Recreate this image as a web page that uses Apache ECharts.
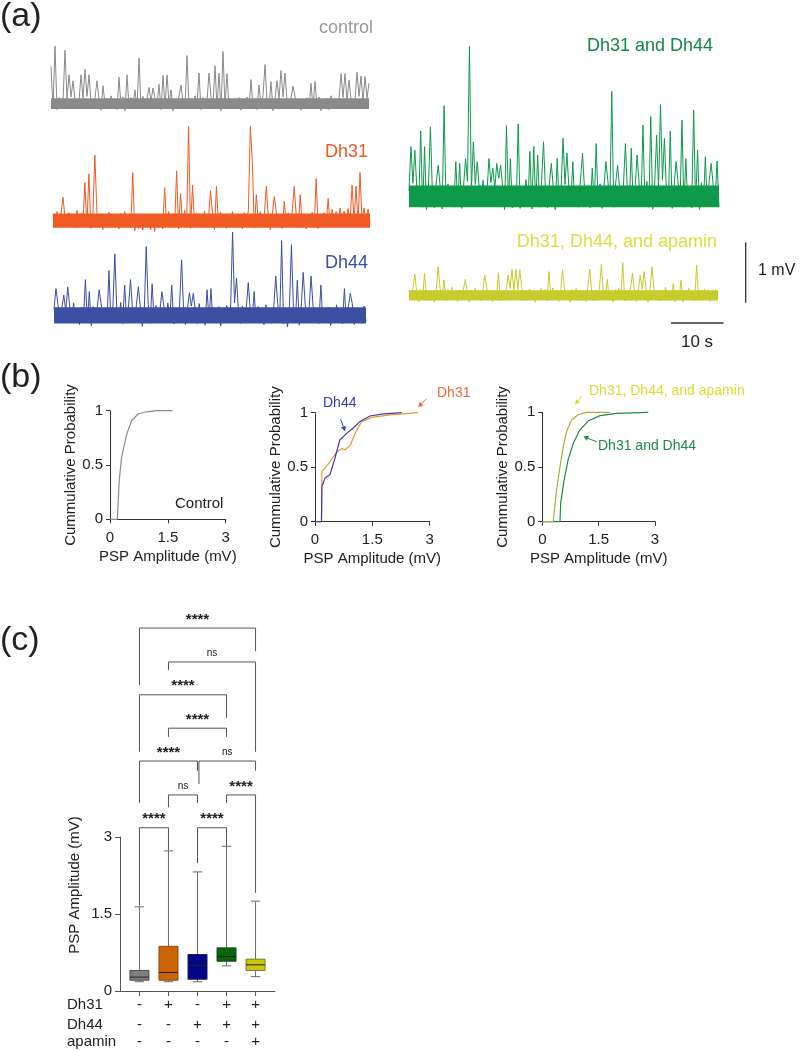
<!DOCTYPE html>
<html><head><meta charset="utf-8">
<script src="https://cdn.jsdelivr.net/npm/echarts@6/dist/echarts.min.js"></script>
<style>html,body{margin:0;padding:0;background:#fff}#chart{width:800px;height:1050px}</style>
</head><body><div id="chart"></div>
<script>
// ================= DATA =================
// (a) voltage traces: baseline noise samples (mV) and PSP spikes [sampleIndex, amplitude mV]
const controlNoise = [
.06,-.08,.04,-.11,.09,-.05,.02,-.12,.07,-.03,
.10,-.07,.05,-.09,.03,-.13,.08,-.04,.11,-.06,
.02,-.10,.09,-.08,.05,-.12,.04,-.02,.08,-.09,
.12,-.05,.03,-.11,.07,-.06,.10,-.13,.04,-.07,
.09,-.03,.06,-.10,.02,-.08,.11,-.05,.07,-.12,
.03,-.09,.08,-.04,.10,-.11,.05,-.07,.09,-.02,
.06,-.13,.04,-.08,.11,-.06,.02,-.10,.08,-.05,
.07,-.09,.12,-.03,.05,-.11,.09,-.07,.03,-.12,
.10,-.04,.06,-.09,.08,-.13,.04,-.06,.11,-.08,
.02,-.10,.07,-.05,.09,-.12,.05,-.03,.10,-.09,
.06,-.07,.03,-.11,.08,-.04,.12,-.10,.04,-.06,
.09,-.13,.05,-.08,.07,-.02,.10,-.11,.03,-.07,
.08,-.05,.11,-.09,.04,-.12,.06,-.03,.09,-.10,
.02,-.08,.07,-.06,.10,-.13,.05,-.04,.08,-.11,
.12,-.07,.03,-.09,.06,-.05,.09,-.12,.04,-.08,
.07,-.10,.05,-.03,.11,-.09,.02,-.06,.08,-.11];
const controlSpikes = [[0,.61],[2,.95],[7,.88],[9,.47],[11,.37],[15,.47],[17,.56],[19,.47],[23,.37],[26,.29],[34,.43],[38,.47],[42,.22],[44,.75],[49,.26],[51,.25],[54,.31],[56,.46],[58,.47],[60,.22],[65,.30],[68,.79],[74,.50],[79,.50],[82,.62],[84,.50],[86,.86],[88,.49],[100,.39],[104,.30],[107,.64],[110,.36],[113,.37],[115,.54],[117,.50],[121,.28],[130,.33],[132,.36],[145,.49],[147,.49],[149,.38],[153,.51],[155,.45],[157,.44],[159,.33]];

const dh31Noise = [
.08,-.12,.14,-.06,.10,-.15,.05,-.09,.12,-.04,
.07,-.13,.16,-.08,.11,-.05,.13,-.10,.06,-.14,
.09,-.07,.15,-.11,.04,-.16,.10,-.06,.13,-.09,
.05,-.12,.08,-.15,.11,-.07,.14,-.10,.06,-.13,
.02,-.18,.07,-.14,.03,-.17,.06,-.12,.09,-.16,
.04,-.19,.08,-.13,.05,-.15,.11,-.09,.14,-.06,
.10,-.12,.07,-.15,.13,-.08,.16,-.11,.05,-.14,
.09,-.06,.12,-.10,.07,-.13,.15,-.08,.04,-.12,
.11,-.16,.08,-.09,.13,-.05,.10,-.14,.06,-.11,
.14,-.07,.09,-.12,.05,-.15,.12,-.08,.16,-.10,
.07,-.13,.11,-.06,.14,-.09,.08,-.12,.05,-.16,
.10,-.08,.13,-.11,.06,-.14,.09,-.05,.12,-.10,
.15,-.07,.08,-.13,.11,-.09,.05,-.15,.10,-.06,
.13,-.11,.07,-.14,.09,-.04,.12,-.08,.16,-.10,
.18,-.03,.14,-.07,.20,-.02,.15,-.06,.19,-.04,
.17,-.01,.21,-.05,.16,-.02,.20,-.03,.18,-.06];
const dh31Spikes = [[5,.38],[16,.62],[18,.77],[21,1.08],[40,.79],[56,.54],[62,.82],[64,.44],[68,1.56],[70,.58],[79,.49],[82,.56],[99,1.56],[100,.94],[102,.42],[107,.56],[111,.39],[116,.31],[121,.56],[124,.42],[132,.69],[138,.36],[150,.58],[152,.56],[154,.79]];

const dh44Noise = [
.10,-.14,.18,-.08,.12,-.17,.06,-.11,.15,-.09,
.20,-.13,.09,-.16,.13,-.07,.17,-.12,.08,-.18,
.14,-.06,.11,-.15,.19,-.10,.07,-.13,.16,-.09,
.12,-.17,.08,-.11,.21,-.14,.10,-.07,.15,-.16,
.09,-.12,.17,-.08,.13,-.19,.06,-.10,.18,-.14,
.11,-.07,.16,-.13,.09,-.17,.14,-.11,.20,-.08,
.07,-.15,.12,-.10,.18,-.06,.13,-.16,.10,-.12,
.15,-.09,.08,-.14,.19,-.11,.06,-.17,.13,-.08,
.17,-.13,.10,-.07,.14,-.18,.09,-.12,.16,-.10,
.11,-.15,.20,-.09,.07,-.14,.15,-.11,.12,-.17,
.08,-.10,.18,-.13,.14,-.07,.10,-.16,.17,-.12,
.06,-.14,.13,-.09,.19,-.11,.08,-.15,.12,-.20,
.16,-.08,.11,-.13,.07,-.17,.14,-.10,.18,-.12,
.09,-.16,.15,-.07,.12,-.14,.20,-.11,.10,-.09,
.13,-.18,.08,-.12,.17,-.10,.11,-.15,.06,-.13,
.14,-.09,.19,-.16,.10,-.12,.07,-.14,.15,-.11];
const dh44Spikes = [[1,.44],[5,.33],[7,.47],[16,.59],[18,.39],[23,.42],[28,.74],[31,1.02],[36,.50],[39,.59],[43,.47],[47,1.14],[50,.52],[55,.39],[60,.50],[65,.92],[69,.37],[71,.36],[78,.42],[80,.44],[91,1.38],[93,.61],[99,.54],[102,.39],[113,.65],[116,1.24],[121,1.17],[124,.58],[127,.71],[131,.65],[136,.50],[148,.44],[151,.36]];

const dh31dh44Noise = [
.15,-.10,.28,-.14,.20,-.08,.32,-.12,.18,-.16,
.25,-.06,.12,-.13,.30,-.09,.22,-.15,.17,-.11,
.27,-.07,.14,-.12,.35,-.10,.19,-.14,.24,-.08,
.31,-.13,.16,-.09,.26,-.15,.21,-.06,.33,-.11,
.13,-.14,.29,-.08,.19,-.12,.36,-.10,.23,-.16,
.18,-.07,.30,-.13,.15,-.09,.27,-.14,.20,-.11,
.34,-.08,.17,-.15,.25,-.10,.22,-.12,.31,-.07,
.14,-.13,.28,-.09,.20,-.16,.33,-.11,.18,-.08,
.26,-.14,.21,-.10,.29,-.07,.16,-.12,.35,-.15,
.19,-.09,.24,-.13,.30,-.10,.17,-.08,.27,-.14,
.22,-.11,.32,-.07,.15,-.12,.28,-.16,.20,-.09,
.25,-.13,.18,-.10,.34,-.08,.23,-.14,.29,-.11,
.16,-.07,.31,-.12,.21,-.15,.26,-.09,.19,-.13,
.33,-.10,.17,-.08,.28,-.14,.24,-.11,.30,-.07,
.20,-.12,.36,-.09,.15,-.13,.27,-.10,.22,-.16,
.29,-.08,.18,-.11,.32,-.14,.25,-.07,.21,-.12];
const dh31dh44Spikes = [[1,.89],[3,.83],[6,1.15],[8,.89],[11,1.22],[15,.58],[18,1.57],[24,.64],[26,.61],[29,.69],[31,2.56],[33,.97],[35,.64],[41,.69],[43,.53],[45,.61],[47,.58],[50,1.24],[52,.69],[56,1.27],[62,.81],[64,.89],[66,.75],[69,.97],[73,.61],[76,.69],[79,1.03],[81,.78],[84,.64],[89,.78],[94,.53],[96,.94],[101,.64],[104,1.81],[107,.58],[111,.94],[114,.86],[117,.75],[120,1.25],[124,1.39],[127,1.08],[129,1.59],[131,1.03],[134,1.15],[137,.64],[140,1.33],[142,.69],[146,1.50],[148,.83],[152,.72],[155,.61],[158,.65]];

const apaminNoise = [
.07,-.05,.10,-.08,.04,-.11,.09,-.06,.12,-.04,
.06,-.09,.03,-.12,.08,-.07,.11,-.03,.05,-.10,
.09,-.06,.13,-.08,.04,-.11,.07,-.05,.10,-.09,
.03,-.12,.08,-.04,.11,-.07,.06,-.10,.09,-.05,
.12,-.08,.05,-.11,.07,-.03,.10,-.09,.04,-.06,
.08,-.12,.11,-.05,.06,-.10,.09,-.07,.13,-.04,
.05,-.09,.10,-.06,.07,-.12,.04,-.08,.11,-.05,
.09,-.10,.06,-.03,.12,-.08,.08,-.11,.05,-.07,
.10,-.06,.04,-.12,.09,-.05,.11,-.09,.07,-.04,
.06,-.11,.13,-.07,.05,-.10,.08,-.06,.12,-.09,
.03,-.08,.10,-.05,.07,-.12,.09,-.04,.11,-.07,
.06,-.10,.08,-.03,.12,-.09,.05,-.11,.07,-.06,
.10,-.04,.09,-.12,.06,-.08,.11,-.05,.04,-.10,
.08,-.07,.13,-.09,.05,-.06,.10,-.11,.07,-.03,
.09,-.12,.06,-.05,.11,-.08,.04,-.10,.12,-.06,
.07,-.09,.10,-.04,.08,-.11,.05,-.07,.09,-.05];
const apaminSpikes = [[3,.35],[8,.36],[15,.47],[18,.25],[29,.26],[39,.33],[46,.37],[51,.33],[53,.43],[55,.43],[57,.42],[72,.39],[79,.42],[93,.43],[99,.51],[102,.26],[110,.54],[115,.36],[119,.33],[121,.39],[125,.47],[136,.19],[140,.25],[148,.50]];

// dense core of the baseline noise band for each trace [low mV, high mV]
const noiseCoreBands = [[-0.10,0.08],[-0.13,0.11],[-0.14,0.13],[-0.12,0.24],[-0.09,0.08]];
const traceLabels = ['control','Dh31','Dh44','Dh31 and Dh44','Dh31, Dh44, and apamin'];
const scaleBarMV = [0, 1];
const scaleBarS = [0, 10];

// (b) cumulative probability curves [PSP amplitude mV, probability]
const cdfControl = [[0,0],[.19,0],[.24,.36],[.30,.57],[.43,.78],[.56,.91],[.73,.97],[.95,.99],[1.21,1],[1.62,1]];
const cdfDh44 = [[0,0],[.17,0],[.18,.32],[.26,.40],[.39,.43],[.52,.58],[.65,.75],[.83,.81],[1.0,.86],[1.18,.92],[1.44,.97],[1.79,.99],[2.27,1]];
const cdfDh31 = [[0,0],[.17,0],[.18,.46],[.26,.49],[.39,.55],[.57,.64],[.70,.67],[.79,.66],[.92,.70],[1.05,.81],[1.22,.92],[1.53,.96],[1.96,.98],[2.31,.99],[2.70,1]];
const cdfApamin = [[0,0],[.29,0],[.38,.29],[.47,.50],[.56,.69],[.65,.83],[.78,.93],[.96,.98],[1.18,1],[1.80,1]];
const cdfDh31Dh44 = [[0,0],[.47,0],[.49,.17],[.58,.38],[.69,.57],[.83,.72],[1.0,.84],[1.22,.92],[1.54,.97],[1.98,.99],[2.82,1]];
const cdfTicksX = [0, 1.5, 3];
const cdfTicksY = [0, 0.5, 1];
// label arrows [x from, y from, x to, y to] in data units of each CDF plot
const arrowsPlot2 = [[2.92,1.13,2.70,1.05],[0.67,0.94,0.79,0.83]];
const arrowsPlot3 = [[1.05,1.15,0.87,1.07],[1.45,0.73,1.09,0.78]];

// (c) box plot of PSP amplitude (mV)
const groups = ['control','Dh31','Dh44','Dh31+Dh44','Dh31+Dh44+apamin'];
const boxMin    = [0.18, 0.18, 0.18, 0.49, 0.28];
const boxQ1     = [0.21, 0.21, 0.23, 0.58, 0.40];
const boxMedian = [0.27, 0.36, 0.50, 0.67, 0.51];
const boxQ3     = [0.40, 0.87, 0.71, 0.84, 0.62];
const boxMax    = [1.64, 2.73, 2.32, 2.82, 1.75];
const dh31Row   = ['-','+','-','+','+'];
const dh44Row   = ['-','-','+','+','+'];
const apaminRow = ['-','-','-','-','+'];
const rowNames  = ['Dh31','Dh44','apamin'];
// significance brackets: [group A, group B, bracket top, left leg end, right leg end]
const bracketPairs = [[0,4,7.07,5.96,6.62],[1,4,6.41,6.25,4.66],[0,3,5.77,4.66,5.32],[1,3,5.12,4.95,4.95],[0,2,4.48,3.66,4.29],[2.05,4,4.48,4.03,4.29],[1,2,3.82,3.58,3.66],[3,4,3.82,3.66,1.91],[0,1,3.18,1.66,2.75],[2,3,3.18,2.49,2.82]];
const bracketLabels = ['****','ns','****','****','****','ns','ns','****','****','****'];

// ================= CHART =================
const FONT = '"Liberation Sans", Arial, Helvetica, sans-serif';
const PX_PER_MV = 60;
const traces = [
  {noise: controlNoise, spikes: controlSpikes, color:'#8a8a8a', left:51,  width:318, zeroY:103, min:-0.3, max:1.1},
  {noise: dh31Noise,    spikes: dh31Spikes,    color:'#f05a24', left:53,  width:317, zeroY:220, min:-0.4, max:1.7},
  {noise: dh44Noise,    spikes: dh44Spikes,    color:'#3b4fa3', left:54,  width:312, zeroY:315, min:-0.4, max:1.5},
  {noise: dh31dh44Noise,spikes: dh31dh44Spikes,color:'#0d9a4b', left:409, width:310, zeroY:200, min:-0.4, max:2.7},
  {noise: apaminNoise,  spikes: apaminSpikes,  color:'#c8cb2c', left:409, width:309, zeroY:295, min:-0.3, max:0.7}
];
function buildTrace(noise, spikes){
  const v = noise.slice();
  spikes.forEach(s => { v[s[0]] = s[1]; });
  return v.map((y,i)=>[i,y]);
}
const grids = [], xAxes = [], yAxes = [], series = [];
traces.forEach((t,k)=>{
  grids.push({left:t.left, width:t.width, top:t.zeroY - t.max*PX_PER_MV, height:(t.max-t.min)*PX_PER_MV});
  xAxes.push({type:'value', gridIndex:k, min:0, max:t.noise.length-1, show:false});
  yAxes.push({type:'value', gridIndex:k, min:t.min, max:t.max, show:false});
  const band = noiseCoreBands[k];
  series.push({type:'line', xAxisIndex:k, yAxisIndex:k, data:buildTrace(t.noise,t.spikes), symbol:'none',
    lineStyle:{color:t.color, width:1}, silent:true, animation:false,
    markArea:{silent:true, itemStyle:{color:t.color, opacity:1},
      data:[[{coord:[0,band[0]]},{coord:[t.noise.length-1,band[1]]}]]}});
});
// scale bars (grids 5, 6)
grids.push({left:671, top:313, width:52.5, height:10});
xAxes.push({type:'value', gridIndex:5, min:0, max:10, show:false});
yAxes.push({type:'value', gridIndex:5, min:0, max:1, show:false});
series.push({type:'line', xAxisIndex:5, yAxisIndex:5, data:[[scaleBarS[0],0],[scaleBarS[1],0]], symbol:'none', lineStyle:{color:'#333',width:1.3}, clip:false, animation:false});
grids.push({left:745.7, top:242.3, width:10, height:60.4});
xAxes.push({type:'value', gridIndex:6, min:0, max:1, show:false});
yAxes.push({type:'value', gridIndex:6, min:0, max:1, show:false});
series.push({type:'line', xAxisIndex:6, yAxisIndex:6, data:[[0,scaleBarMV[0]],[0,scaleBarMV[1]]], symbol:'none', lineStyle:{color:'#333',width:1.3}, clip:false, animation:false});

// (b) CDF plots (grids 7,8,9)
const cdfGrids = [
  {left:110, top:410.7, width:115.7, height:108.6},
  {left:315, top:412.7, width:114.6, height:109},
  {left:542.3, top:412.3, width:112.7, height:109.4}
];
cdfGrids.forEach((g,j)=>{
  const gi = 7+j;
  grids.push(g);
  xAxes.push({type:'value', gridIndex:gi, min:cdfTicksX[0], max:cdfTicksX[2], interval:cdfTicksX[1],
    axisLine:{show:true, onZero:false, lineStyle:{color:'#333', width:1}},
    axisTick:{show:true, length:4, lineStyle:{color:'#333'}},
    axisLabel:{fontSize:15, color:'#222', fontFamily:FONT, margin:11},
    splitLine:{show:false},
    name:'PSP Amplitude (mV)', nameLocation:'middle', nameGap:30,
    nameTextStyle:{fontSize:15, color:'#222', fontFamily:FONT}});
  yAxes.push({type:'value', gridIndex:gi, min:cdfTicksY[0], max:cdfTicksY[2], interval:cdfTicksY[1],
    axisLine:{show:true, onZero:false, lineStyle:{color:'#333', width:1}},
    axisTick:{show:true, length:4, lineStyle:{color:'#333'}},
    axisLabel:{fontSize:15, color:'#222', fontFamily:FONT, margin:7},
    splitLine:{show:false},
    name:'Cummulative Probability', nameLocation:'middle', nameGap:30,
    nameTextStyle:{fontSize:15, color:'#222', fontFamily:FONT}});
});
function cdfLine(gi, data, color){
  return {type:'line', xAxisIndex:gi, yAxisIndex:gi, data:data, symbol:'none', clip:false,
    lineStyle:{color:color, width:1.2}, silent:true, animation:false};
}
series.push(cdfLine(7, cdfControl, '#8c8c8c'));
series.push(cdfLine(8, cdfDh31, '#e8962e'));
series.push(cdfLine(8, cdfDh44, '#3d3db4'));
series.push(cdfLine(9, cdfDh31Dh44, '#1f8a4c'));
series.push(cdfLine(9, cdfApamin, '#aeac3a'));
function arrowSeries(gi, arrows, colors){
  return {type:'custom', xAxisIndex:gi, yAxisIndex:gi, clip:false, silent:true, animation:false,
    encode:{x:[0,2], y:[1,3]}, data:arrows,
    renderItem:function(params, api){
      const a = api.coord([api.value(0), api.value(1)]), b = api.coord([api.value(2), api.value(3)]);
      const col = colors[params.dataIndex];
      const dx = b[0]-a[0], dy = b[1]-a[1], len = Math.sqrt(dx*dx+dy*dy), ux = dx/len, uy = dy/len;
      const hl = 5, hw = 2.6;
      const base = [b[0]-ux*hl, b[1]-uy*hl];
      return {type:'group', children:[
        {type:'line', shape:{x1:a[0], y1:a[1], x2:base[0], y2:base[1]}, style:{stroke:col, lineWidth:1}},
        {type:'polygon', shape:{points:[b, [base[0]-uy*hw, base[1]+ux*hw], [base[0]+uy*hw, base[1]-ux*hw]]}, style:{fill:col}}
      ]};
    }};
}
series.push(arrowSeries(8, arrowsPlot2, ['#f26a3a','#3c3cb0']));
series.push(arrowSeries(9, arrowsPlot3, ['#dcdc30','#1f8a4c']));

// (c) box plot (grid 10) and brackets (grid 11)
const BOX_PX_PER_MV = 154/3;
const boxGrid = {left:120, top:837, width:155, height:154};
grids.push(boxGrid);
xAxes.push({type:'value', gridIndex:10, min:-0.67, max:4.67, axisLine:{show:true, onZero:false, lineStyle:{color:'#555'}},
  axisTick:{show:false}, axisLabel:{show:false}, splitLine:{show:false}});
yAxes.push({type:'value', gridIndex:10, min:0, max:3, interval:1.5,
  axisLine:{show:true, onZero:false, lineStyle:{color:'#555'}},
  axisTick:{show:true, length:5, lineStyle:{color:'#555'}},
  axisLabel:{fontSize:15, color:'#222', fontFamily:FONT, margin:8}, splitLine:{show:false}});
const brTop = boxGrid.top + boxGrid.height - 8*BOX_PX_PER_MV;
grids.push({left:120, top:brTop, width:155, height:8*BOX_PX_PER_MV});
xAxes.push({type:'value', gridIndex:11, min:-0.67, max:4.67, show:false});
yAxes.push({type:'value', gridIndex:11, min:0, max:8, show:false});

const boxStyles = [
  {fill:'#808080', stroke:'#4d4d4d'},
  {fill:'#cc6406', stroke:'#8a4a12'},
  {fill:'#040489', stroke:'#1b1b55'},
  {fill:'#0a650a', stroke:'#174a17'},
  {fill:'#c9c708', stroke:'#7d7b1c'}
];
const signRows = [dh31Row, dh44Row, apaminRow];
const signOffsets = [14, 34, 50.5];
series.push({type:'custom', xAxisIndex:10, yAxisIndex:10, clip:false, silent:true, animation:false,
  encode:{x:0, y:[1,2,3,4,5]},
  data: groups.map((g,i)=>[i, boxMin[i], boxQ1[i], boxMedian[i], boxQ3[i], boxMax[i]]),
  renderItem:function(params, api){
    const i = api.value(0);
    const pMin = api.coord([i, api.value(1)]), pQ1 = api.coord([i, api.value(2)]),
          pMed = api.coord([i, api.value(3)]), pQ3 = api.coord([i, api.value(4)]),
          pMax = api.coord([i, api.value(5)]), p0 = api.coord([i, 0]);
    const x = pMin[0], half = 9.5, cap = 4.7;
    const st = boxStyles[params.dataIndex];
    const wl = {stroke:'#6a6a6a', lineWidth:1};
    const kids = [
      {type:'line', shape:{x1:x, y1:pMax[1], x2:x, y2:pQ3[1]}, style:wl},
      {type:'line', shape:{x1:x, y1:pQ1[1], x2:x, y2:pMin[1]}, style:wl},
      {type:'line', shape:{x1:x-cap, y1:pMax[1], x2:x+cap, y2:pMax[1]}, style:wl},
      {type:'line', shape:{x1:x-cap, y1:pMin[1], x2:x+cap, y2:pMin[1]}, style:wl},
      {type:'rect', shape:{x:x-half, y:pQ3[1], width:2*half, height:pQ1[1]-pQ3[1]}, style:{fill:st.fill, stroke:st.stroke, lineWidth:1}},
      {type:'line', shape:{x1:x-half, y1:pMed[1], x2:x+half, y2:pMed[1]}, style:{stroke:'#222', lineWidth:1}},
      {type:'line', shape:{x1:x, y1:p0[1], x2:x, y2:p0[1]+5}, style:{stroke:'#555', lineWidth:1}}
    ];
    signRows.forEach((row,r)=>{
      kids.push({type:'text', x:x, y:p0[1]+signOffsets[r], style:{text:row[params.dataIndex], fill:'#222',
        fontSize:15, fontFamily:FONT, align:'center', verticalAlign:'middle', textAlign:'center', textVerticalAlign:'middle'}});
    });
    return {type:'group', children:kids};
  }
});
series.push({type:'custom', xAxisIndex:11, yAxisIndex:11, clip:false, silent:true, animation:false,
  encode:{x:[0,1], y:[2,3,4]},
  data: bracketPairs,
  renderItem:function(params, api){
    const a = api.value(0), b = api.value(1);
    const p1 = api.coord([a, api.value(3)]), p2 = api.coord([a, api.value(2)]),
          p3 = api.coord([b, api.value(2)]), p4 = api.coord([b, api.value(4)]);
    const lab = bracketLabels[params.dataIndex];
    const isNs = lab === 'ns';
    return {type:'group', children:[
      {type:'polyline', shape:{points:[p1,p2,p3,p4]}, style:{stroke:'#555', lineWidth:1, fill:null}},
      {type:'text', x:(p2[0]+p3[0])/2, y:p2[1] - (isNs ? 4 : 1), style:{text:lab, fill:'#222',
        fontSize: isNs ? 10 : 15, fontWeight: isNs ? 'normal' : 'bold', fontFamily:FONT,
        align:'center', verticalAlign:'bottom', textAlign:'center', textVerticalAlign:'bottom'}}
    ]};
  }
});

// ---------- text annotations ----------
function txt(text, x, y, size, color, align, rot){
  return {type:'text', x:x, y:y, rotation:rot||0, silent:true,
    style:{text:text, fill:color, fontSize:size, fontFamily:FONT, align:align||'left', verticalAlign:'middle',
      textAlign:align||'left', textVerticalAlign:'middle'}};
}
const graphic = [
  txt('(a)', 0, 17, 34, '#222'),
  txt('(b)', 0, 378, 34, '#222'),
  txt('(c)', 0, 641, 34, '#222'),
  txt(traceLabels[0], 373, 28, 18, '#9a9a9a', 'right'),
  txt(traceLabels[1], 368, 152, 18, '#f15a29', 'right'),
  txt(traceLabels[2], 368, 263, 18, '#3a4fa3', 'right'),
  txt(traceLabels[3], 713, 46, 18, '#13874a', 'right'),
  txt(traceLabels[4], 717, 242, 18, '#dcdf3f', 'right'),
  txt('1 mV', 758, 271, 16, '#222'),
  txt('10 s', 697, 342, 17, '#222', 'center'),
  txt('Control', 175, 504, 15, '#222'),
  txt('Dh44', 323, 403, 14, '#3c3cb0'),
  txt('Dh31', 437, 393, 14, '#f26a3a'),
  txt('Dh31, Dh44, and apamin', 589, 391, 14, '#dcdc30'),
  txt('Dh31 and Dh44', 598, 446, 14, '#1f8a4c'),
  txt('PSP Amplitude (mV)', 75, 885, 15, '#222', 'center', Math.PI/2),
  txt(rowNames[0], 67, 1005, 15, '#222'),
  txt(rowNames[1], 67, 1025, 15, '#222'),
  txt(rowNames[2], 67, 1041.5, 15, '#222')
];

const chart = echarts.init(document.getElementById('chart'), null, {renderer:'canvas'});
chart.setOption({
  animation:false,
  backgroundColor:'#fff',
  textStyle:{fontFamily:FONT},
  grid:grids, xAxis:xAxes, yAxis:yAxes, series:series, graphic:graphic
});
</script></body></html>
